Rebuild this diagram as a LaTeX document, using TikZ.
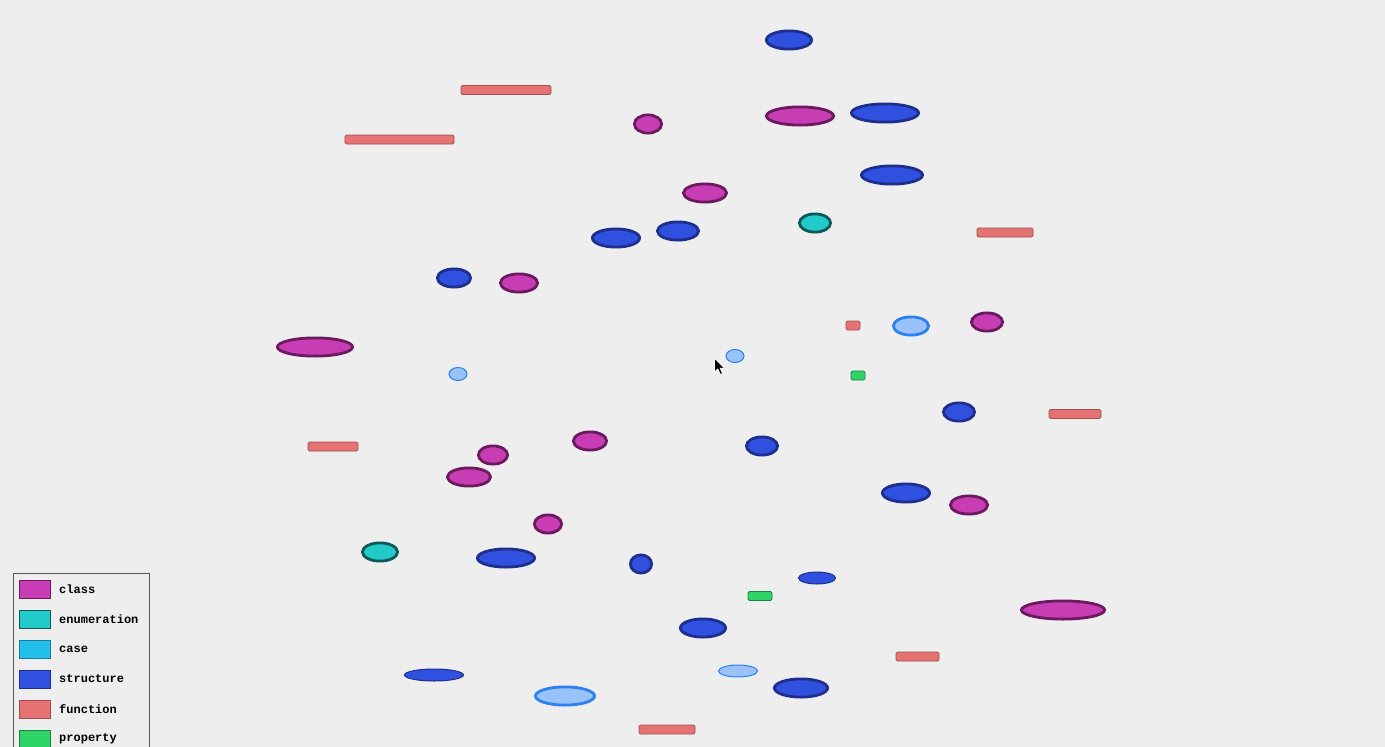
\documentclass[tikz,border=0pt]{standalone}
\usepackage{fontspec}
\newfontfamily\legfont{Liberation Mono}
\usetikzlibrary{shapes.geometric}
\definecolor{bg}{HTML}{EEEEEE}
\definecolor{clsF}{HTML}{C83CB4}
\definecolor{clsD}{HTML}{6B1A5E}
\definecolor{enmF}{HTML}{22CACA}
\definecolor{enmD}{HTML}{0F5858}
\definecolor{casF}{HTML}{22BFEA}
\definecolor{casD}{HTML}{1C7A9A}
\definecolor{strF}{HTML}{3050E0}
\definecolor{strD}{HTML}{1E2E8C}
\definecolor{funF}{HTML}{E57373}
\definecolor{funD}{HTML}{A05050}
\definecolor{prpF}{HTML}{2ED466}
\definecolor{prpD}{HTML}{1E8040}
\definecolor{lbF}{HTML}{9AC2FA}
\definecolor{lbD}{HTML}{2E80EC}
\definecolor{legD}{HTML}{555555}
\tikzset{
  ell/.style n args={2}{ellipse, inner sep=0pt, minimum width=#1pt-2.8pt, minimum height=#2pt-2.8pt, line width=2.8pt},
  ellthin/.style n args={2}{ellipse, inner sep=0pt, minimum width=#1pt-1pt, minimum height=#2pt-1pt, line width=1pt},
  cls/.style={fill=clsF, draw=clsD},
  enm/.style={fill=enmF, draw=enmD},
  str/.style={fill=strF, draw=strD},
  lb/.style={fill=lbF, draw=lbD},
  fun/.style n args={1}{rectangle, rounded corners=1.5pt, inner sep=0pt, minimum width=#1pt, minimum height=9pt, fill=funF, draw=funD, line width=0.8pt},
  prp/.style n args={1}{rectangle, rounded corners=1.5pt, inner sep=0pt, minimum width=#1pt, minimum height=9pt, fill=prpF, draw=prpD, line width=0.8pt},
  swatch/.style={rectangle, inner sep=0pt, minimum width=31pt, minimum height=18pt, line width=1pt},
  legtext/.style={anchor=west, inner sep=0pt, font=\legfont\bfseries\fontsize{12}{13}\selectfont, text=black}
}
\begin{document}
\begin{tikzpicture}[x=1pt,y=-1pt]
\useasboundingbox (0,0) rectangle (1385,747);
\clip (0,0) rectangle (1385,747);
\fill[bg] (0,0) rectangle (1385,747);
% structure
\node[str, ell={48}{21}] (s1) at (789,40) {};
\node[str, ell={70}{21}] (s2) at (885,113) {};
\node[str, ell={64}{21}] (s3) at (892,175) {};
\node[str, ell={50}{21}] (s4) at (616,238) {};
\node[str, ell={44}{21}] (s5) at (678,231) {};
\node[str, ell={36}{21}] (s6) at (454,278) {};
\node[str, ell={34}{21}] (s7) at (959,412) {};
\node[str, ell={34}{21}] (s8) at (762,446) {};
\node[str, ell={50}{21}] (s9) at (906,493) {};
\node[str, ell={60}{21}] (s10) at (506,558) {};
\node[str, ell={24}{21}] (s11) at (641,564) {};
\node[str, ellthin={38}{13}] (s12) at (817,578) {};
\node[str, ell={48}{21}] (s13) at (703,628) {};
\node[str, ellthin={60}{13}] (s14) at (434,675) {};
\node[str, ell={56}{21}] (s15) at (801,688) {};
% class
\node[cls, ell={30}{21}] (c1) at (648,124) {};
\node[cls, ell={70}{21}] (c2) at (800,116) {};
\node[cls, ell={46}{21}] (c3) at (705,193) {};
\node[cls, ell={40}{21}] (c4) at (519,283) {};
\node[cls, ell={78}{21}] (c5) at (315,347) {};
\node[cls, ell={34}{21}] (c6) at (987,322) {};
\node[cls, ell={32}{21}] (c7) at (493,455) {};
\node[cls, ell={36}{21}] (c8) at (590,441) {};
\node[cls, ell={46}{21}] (c9) at (469,477) {};
\node[cls, ell={30}{21}] (c10) at (548,524) {};
\node[cls, ell={40}{21}] (c11) at (969,505) {};
\node[cls, ell={86}{21}] (c12) at (1063,610) {};
% enumeration
\node[enm, ell={34}{21}] (e1) at (815,223) {};
\node[enm, ell={38}{21}] (e2) at (380,552) {};
% light blue
\node[lb, ell={38}{21}] (l1) at (911,326) {};
\node[lb, ell={62}{21}] (l2) at (565,696) {};
\node[lb, ellthin={19}{14}] (l3) at (735,356) {};
\node[lb, ellthin={19}{14}] (l4) at (458,374) {};
\node[lb, ellthin={40}{13}] (l5) at (738,671) {};
% function
\node[fun={90}] (f1) at (506,90) {};
\node[fun={109}] (f2) at (399.5,139.5) {};
\node[fun={56}] (f3) at (1005,232.5) {};
\node[fun={14}] (f4) at (853,325.5) {};
\node[fun={52}] (f5) at (1075,414) {};
\node[fun={50}] (f6) at (333,446.5) {};
\node[fun={43}] (f7) at (917.5,656.5) {};
\node[fun={56}] (f8) at (667,729.5) {};
% property
\node[prp={14}] (p1) at (858,375.5) {};
\node[prp={24}] (p2) at (760,596) {};
% cursor
\draw[fill=black, draw=white, line width=0.8pt, line join=round]
  (714.5,358) -- (714.5,372) -- (717.8,369) -- (720.3,374.5) -- (722.6,373.5) -- (720.2,368.2) -- (724.5,368.2) -- cycle;
% legend
\draw[legD, line width=1pt] (13.5,760) |- (149.5,573.5) -- (149.5,760);
\node[swatch, fill=clsF, draw=clsD] (k1) at (34.5,589) {};
\node[swatch, fill=enmF, draw=enmD] (k2) at (34.5,619) {};
\node[swatch, fill=casF, draw=casD] (k3) at (34.5,649) {};
\node[swatch, fill=strF, draw=strD] (k4) at (34.5,679) {};
\node[swatch, fill=funF, draw=funD] (k5) at (34.5,709) {};
\node[swatch, fill=prpF, draw=prpD] (k6) at (34.5,739) {};
\node[legtext] (t1) at (59,589) {class};
\node[legtext] (t2) at (59,619) {enumeration};
\node[legtext] (t3) at (59,649) {case};
\node[legtext] (t4) at (59,679) {structure};
\node[legtext] (t5) at (59,709) {function};
\node[legtext] (t6) at (59,739) {property};
\end{tikzpicture}
\end{document}
